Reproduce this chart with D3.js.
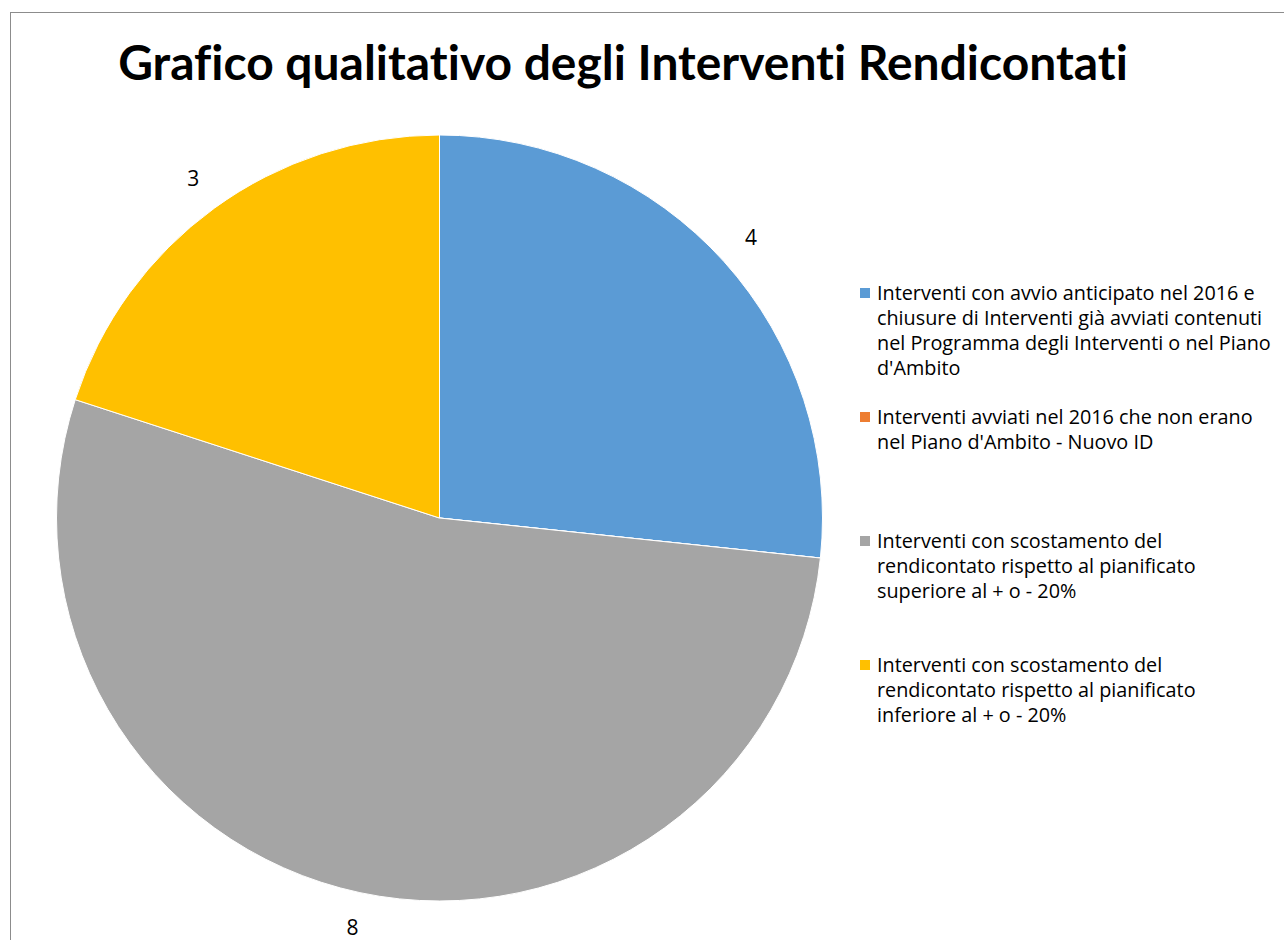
<!DOCTYPE html>
<html>
<head>
<meta charset="utf-8">
<script src="https://cdn.jsdelivr.net/npm/d3@7"></script>
<style>
  body { margin: 0; background: #fff; }
  svg { display: block; font-family: "Open Sans", Lato, sans-serif; font-variant-ligatures: none; }
</style>
</head>
<body>
<svg id="chart" width="1284" height="940"></svg>
<script>
// Chart data
const titleText = "Grafico qualitativo degli Interventi Rendicontati";
const categories = [
    "Interventi con avvio anticipato nel 2016 e chiusure di Interventi già avviati contenuti nel Programma degli Interventi o nel Piano d'Ambito",
    "Interventi avviati nel 2016 che non erano nel Piano d'Ambito - Nuovo ID",
    "Interventi con scostamento del rendicontato rispetto al pianificato superiore al + o - 20%",
    "Interventi con scostamento del rendicontato rispetto al pianificato inferiore al + o - 20%"
];
const values = [4, 0, 8, 3];
const colors = ["#5b9bd5", "#ed7d31", "#a5a5a5", "#ffc000"];
// legend text as wrapped in the original
const legendLines = [
    ["Interventi con avvio anticipato nel 2016 e", "chiusure di Interventi già avviati contenuti", "nel Programma degli Interventi o nel Piano", "d'Ambito"],
    ["Interventi avviati nel 2016 che non erano", "nel Piano d'Ambito - Nuovo ID"],
    ["Interventi con scostamento del", "rendicontato rispetto al pianificato", "superiore al + o - 20%"],
    ["Interventi con scostamento del", "rendicontato rispetto al pianificato", "inferiore al + o - 20%"]
];

const svg = d3.select("#chart");

// Chart border
svg.append("rect")
    .attr("x", 10.5).attr("y", 12.5)
    .attr("width", 1290).attr("height", 940)
    .attr("fill", "none")
    .attr("stroke", "#8c8c8c")
    .attr("stroke-width", 1);

// Title, sized to match the original width
let title = svg.append("text")
    .attr("x", 623).attr("y", 80)
    .attr("text-anchor", "middle")
    .attr("font-family", "Lato, 'Open Sans', sans-serif")
    .attr("font-weight", "bold")
    .attr("font-size", 40)
    .attr("fill", "#000")
    .text(titleText);
let tw = title.node().getComputedTextLength();
title.attr("font-size", 40 * 1010 / tw);

// Pie
const cx = 439.5, cy = 518, radius = 383;
const pie = d3.pie().sort(null).value(d => d);
const arc = d3.arc().innerRadius(0).outerRadius(radius);
const arcs = pie(values);

const g = svg.append("g").attr("transform", `translate(${cx},${cy})`);
g.selectAll("path")
    .data(arcs)
    .enter()
    .append("path")
    .attr("d", arc)
    .attr("fill", (d, i) => colors[i])
    .attr("stroke", "#fff")
    .attr("stroke-width", 1);

// Data labels outside the slices
const labelArc = d3.arc().innerRadius(radius + 36).outerRadius(radius + 36);
g.selectAll("text.lbl")
    .data(arcs.filter(d => d.value > 0))
    .enter()
    .append("text")
    .attr("class", "lbl")
    .attr("transform", d => {
        let c = labelArc.centroid(d);
        return `translate(${c[0]},${c[1]})`;
    })
    .attr("text-anchor", "middle")
    .attr("dy", "0.35em")
    .attr("font-size", 21)
    .attr("fill", "#000")
    .text(d => d.value);

// Legend
const legend = svg.append("g").attr("transform", "translate(860,293)");
const item = legend.selectAll("g")
    .data(categories)
    .enter()
    .append("g")
    .attr("transform", (d, i) => `translate(0,${i * 124})`);

item.append("rect")
    .attr("x", 0).attr("y", -5)
    .attr("width", 10).attr("height", 10)
    .attr("fill", (d, i) => colors[i]);

const legendText = item.append("text")
    .attr("x", 17)
    .attr("font-size", 16)
    .attr("fill", "#000");

legendText.selectAll("tspan")
    .data((d, i) => legendLines[i])
    .enter()
    .append("tspan")
    .attr("x", 17)
    .attr("y", (d, j) => j * 25)
    .attr("dy", "0.35em")
    .text(d => d);

// fit legend font so the first line spans the original width
let lw = legendText.filter((d, i) => i === 0).select("tspan").node().getComputedTextLength();
legendText.attr("font-size", 16 * 378 / lw);
</script>
</body>
</html>
